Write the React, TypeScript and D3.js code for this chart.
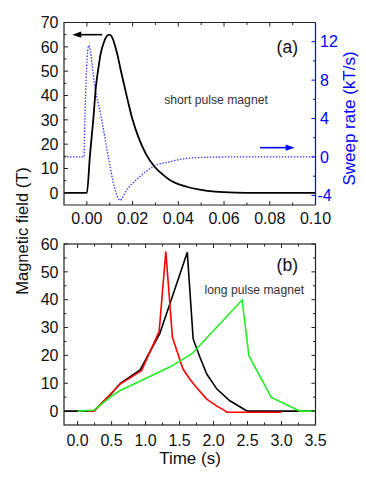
import React from 'react';
import * as d3 from 'd3';

// (a) short pulse magnet: field (T) and sweep rate (kT/s) vs time (s)
const shortTime = [-0.01, 0, 0.0014, 0.0028, 0.004, 0.005, 0.006, 0.0075, 0.0088, 0.0098, 0.011, 0.012, 0.0133, 0.0148, 0.0164, 0.018, 0.02, 0.0225, 0.0258, 0.0298, 0.0335, 0.0363, 0.04, 0.044, 0.05, 0.056, 0.065, 0.075, 0.1];
const shortField = [0, 0, 16, 30, 44, 51, 57, 62, 64.5, 65, 64, 61.5, 57, 50.5, 44, 37.5, 30, 23, 16, 10.5, 7.3, 5.3, 3.6, 2.4, 1.2, 0.5, 0.1, 0, 0];
const sweepTime = [-0.01, -0.0012, -0.001, 0.0008, 0.0035, 0.0065, 0.0094, 0.012, 0.0145, 0.0174, 0.0232, 0.029, 0.0363, 0.044, 0.0525, 0.06, 0.1];
const sweepRate = [0, 0, 2.5, 11.6, 7.3, 3.85, 0, -3.1, -4.5, -3.44, -2.05, -1.0, -0.49, -0.14, -0.03, 0, 0];

// (b) long pulse magnet: three pulses
const blackTime = [-0.2, 0.24, 0.5, 0.63, 0.92, 1.21, 1.614, 1.7, 1.8, 1.9, 2.05, 2.24, 2.46, 2.5, 3.5];
const blackField = [0, 0, 6.3, 10, 14.8, 27.9, 57, 25.9, 19.3, 13.3, 7.9, 3.7, 0.5, 0, 0];
const redTime = [0.15, 0.24, 0.5, 0.63, 0.94, 1.2, 1.298, 1.395, 1.55, 1.65, 1.75, 1.9, 2.05, 2.14, 2.2, 3.0];
const redField = [0, 0, 6.5, 9.8, 14.5, 28.6, 57.3, 26.5, 15.1, 11.5, 8.5, 4.3, 1.8, 0.5, -0.4, -0.4];
const greenTime = [0, 0.24, 0.5, 0.62, 0.915, 1.355, 1.68, 2.42, 2.52, 2.85, 3.27, 3.5];
const greenField = [0, 0.3, 5.4, 7.3, 10.7, 15.8, 20.5, 39.9, 19.9, 4.9, 0, 0];

const topXTicks = [0, 0.02, 0.04, 0.06, 0.08, 0.1];
const topXLabels = ['0.00', '0.02', '0.04', '0.06', '0.08', '0.10'];
const topXMinor = [0.01, 0.03, 0.05, 0.07, 0.09];
const fieldTicksA = [0, 10, 20, 30, 40, 50, 60, 70];
const fieldMinorA = [5, 15, 25, 35, 45, 55, 65];
const rateTicks = [-4, 0, 4, 8, 12];
const rateMinor = [-2, 2, 6, 10];
const botXTicks = [0, 0.5, 1, 1.5, 2, 2.5, 3, 3.5];
const botXLabels = ['0.0', '0.5', '1.0', '1.5', '2.0', '2.5', '3.0', '3.5'];
const botXMinor = [0.25, 0.75, 1.25, 1.75, 2.25, 2.75, 3.25];
const fieldTicksB = [0, 10, 20, 30, 40, 50, 60];
const fieldMinorB = [5, 15, 25, 35, 45, 55];

const FONT = '"Liberation Sans", Arial, sans-serif';
const BLUE = '#0000ff';
const L = 64, R = 315.5;

const xA = d3.scaleLinear().domain([-0.01, 0.1]).range([L, R]);
const yA = d3.scaleLinear().domain([-5, 70]).range([205, 22.5]);
const yRate = d3.scaleLinear().domain([-5, 14]).range([205, 22.5]);
const xB = d3.scaleLinear().domain([-0.2, 3.5]).range([L, R]);
const yB = d3.scaleLinear().domain([-5, 60]).range([425, 244]);

function path(xs: number[], ys: number[], x: any, y: any, curve: any) {
  const pts = xs.map((t, i) => [t, ys[i]] as [number, number]);
  return d3.line<[number, number]>().x(d => x(d[0])).y(d => y(d[1])).curve(curve)(pts) || '';
}

function XTicks({ x, y, major, minor, color = '#222' }: any) {
  const [y0, y1] = y.range();
  const out: any[] = [];
  major.forEach((v: number) => {
    out.push(<line key={'b' + v} x1={x(v)} x2={x(v)} y1={y0} y2={y0 - 4} stroke={color} />);
    out.push(<line key={'t' + v} x1={x(v)} x2={x(v)} y1={y1} y2={y1 + 4} stroke={color} />);
  });
  minor.forEach((v: number) => {
    out.push(<line key={'bm' + v} x1={x(v)} x2={x(v)} y1={y0} y2={y0 - 2.5} stroke={color} />);
    out.push(<line key={'tm' + v} x1={x(v)} x2={x(v)} y1={y1} y2={y1 + 2.5} stroke={color} />);
  });
  return <g>{out}</g>;
}

function YTicks({ y, at, dir, major, minor, color = '#222' }: any) {
  return (
    <g>
      {major.map((v: number) => (
        <line key={'M' + v} x1={at} x2={at + dir * 4} y1={y(v)} y2={y(v)} stroke={color} />
      ))}
      {minor.map((v: number) => (
        <line key={'m' + v} x1={at} x2={at + dir * 2.5} y1={y(v)} y2={y(v)} stroke={color} />
      ))}
    </g>
  );
}

function Arrow({ x1, x2, y, color }: any) {
  const d = x2 < x1 ? 1 : -1;
  return (
    <g>
      <line x1={x1} x2={x2 + d * 6} y1={y} y2={y} stroke={color} strokeWidth={1.6} />
      <path d={`M${x2},${y} L${x2 + d * 9},${y - 3.2} L${x2 + d * 9},${y + 3.2} Z`} fill={color} />
    </g>
  );
}

export default function App() {
  const [ya0, ya1] = yA.range();
  const [yb0, yb1] = yB.range();
  return (
    <div style={{ position: 'absolute', left: 0, top: 0 }}>
      <svg width={366} height={480} style={{ display: 'block', background: '#fff' }} fontFamily={FONT}>
        {/* panel (a) */}
        <defs>
          <clipPath id="clipA"><rect x={L} y={ya1} width={R - L} height={ya0 - ya1} /></clipPath>
          <clipPath id="clipB"><rect x={L} y={yb1} width={R - L} height={yb0 - yb1} /></clipPath>
        </defs>
        <g clipPath="url(#clipA)">
          <path d={path(sweepTime, sweepRate, xA, yRate, d3.curveMonotoneX)} fill="none" stroke="#2f2fff" strokeWidth={1.3} strokeDasharray="1.4 1.6" />
          <path d={path(shortTime, shortField, xA, yA, d3.curveMonotoneX)} fill="none" stroke="#000" strokeWidth={1.8} />
        </g>
        <XTicks x={xA} y={yA} major={topXTicks} minor={topXMinor} />
        <YTicks y={yA} at={L} dir={1} major={fieldTicksA} minor={fieldMinorA} />
        <YTicks y={yRate} at={R} dir={-1} major={rateTicks} minor={rateMinor} color={BLUE} />
        <path d={`M${R},${ya1} L${L},${ya1} L${L},${ya0} L${R},${ya0}`} fill="none" stroke="#222" strokeWidth={1.2} />
        <line x1={R} x2={R} y1={ya1} y2={ya0} stroke={BLUE} strokeWidth={1.2} />
        {topXTicks.map((v, i) => (
          <text key={v} x={xA(v)} y={224} textAnchor="middle" fontSize={16} fill="#111">{topXLabels[i]}</text>
        ))}
        {fieldTicksA.map(v => (
          <text key={v} x={58.5} y={yA(v) + 5.7} textAnchor="end" fontSize={16} fill="#111">{v}</text>
        ))}
        {rateTicks.map(v => (
          <text key={v} x={v < 0 ? 317.5 : 320} y={yRate(v) + 5.7} fontSize={16} fill={BLUE}>{v < 0 ? '-' + Math.abs(v) : v}</text>
        ))}
        <text x={298} y={53} textAnchor="end" fontSize={17.5} fill="#111">(a)</text>
        <text x={216} y={104} textAnchor="middle" fontSize={12.2} fill="#333">short pulse magnet</text>
        <Arrow x1={xA(0.0067)} x2={xA(-0.0064)} y={yA(65)} color="#000" />
        <Arrow x1={xA(0.0757)} x2={xA(0.0909)} y={yRate(0.97)} color={BLUE} />
        <text transform={`translate(355,118.5) rotate(-90)`} textAnchor="middle" fontSize={17} fill={BLUE}>Sweep rate (kT/s)</text>

        {/* panel (b) */}
        <g clipPath="url(#clipB)">
          <path d={path(blackTime, blackField, xB, yB, d3.curveLinear)} fill="none" stroke="#000" strokeWidth={1.6} />
          <path d={path(redTime, redField, xB, yB, d3.curveLinear)} fill="none" stroke="#ff0000" strokeWidth={1.6} />
          <path d={path(greenTime, greenField, xB, yB, d3.curveLinear)} fill="none" stroke="#22ee22" strokeWidth={1.6} />
        </g>
        <XTicks x={xB} y={yB} major={botXTicks} minor={botXMinor} />
        <YTicks y={yB} at={L} dir={1} major={fieldTicksB} minor={fieldMinorB} />
        <YTicks y={yB} at={R} dir={-1} major={fieldTicksB} minor={fieldMinorB} />
        <rect x={L} y={yb1} width={R - L} height={yb0 - yb1} fill="none" stroke="#222" strokeWidth={1.2} />
        {botXTicks.map((v, i) => (
          <text key={v} x={xB(v)} y={445.5} textAnchor="middle" fontSize={16} fill="#111">{botXLabels[i]}</text>
        ))}
        {fieldTicksB.map(v => (
          <text key={v} x={58.5} y={yB(v) + 5.7} textAnchor="end" fontSize={16} fill="#111">{v}</text>
        ))}
        <text x={298} y={271} textAnchor="end" fontSize={17.5} fill="#111">(b)</text>
        <text x={204.5} y={294} fontSize={12.2} fill="#333">long pulse magnet</text>
        <text x={190} y={463.5} textAnchor="middle" fontSize={17} fill="#111">Time (s)</text>

        <text transform={`translate(27.5,231) rotate(-90)`} textAnchor="middle" fontSize={16.5} fill="#111">Magnetic field (T)</text>
      </svg>
    </div>
  );
}
